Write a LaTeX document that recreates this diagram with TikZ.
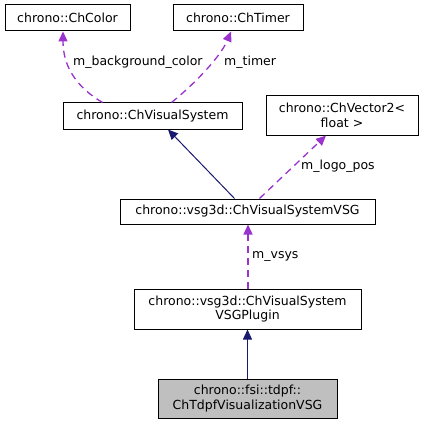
\documentclass[tikz,border=0pt]{standalone}
\usepackage{fontspec}
\setmainfont{DejaVu Sans}
\usetikzlibrary{arrows.meta}

\definecolor{usecol}{HTML}{9A32CD}
\definecolor{inhcol}{HTML}{191970}
\tikzset{
  cls/.style={draw, line width=1pt, fill=white, align=center, inner sep=0pt, font=\fontsize{12.5}{14.5}\selectfont},
  inh/.style={draw=inhcol, line width=1pt, -{Triangle[length=10pt, width=9pt, fill=inhcol]}},
  use/.style={draw=usecol, line width=1.3pt, dash pattern=on 7pt off 5pt, -{Triangle[length=10pt, width=9pt, fill=usecol]}},
  lbl/.style={font=\fontsize{12.5}{14.5}\selectfont, inner sep=1pt}
}

\begin{document}
\begin{tikzpicture}[x=1pt, y=-1pt]
  \useasboundingbox (0,0) rectangle (423,425);
  % classes
  \node[cls, minimum width=125pt, minimum height=26pt] (color) at (67.5,18) {chrono::ChColor};
  \node[cls, minimum width=130pt, minimum height=26pt] (timer) at (238,18) {chrono::ChTimer};
  \node[cls, minimum width=179pt, minimum height=26pt] (vis) at (152.5,116) {chrono::ChVisualSystem};
  \node[cls, minimum width=152pt, minimum height=39pt] (vec) at (342,115.5) {chrono::ChVector2<\\float >};
  \node[cls, minimum width=255pt, minimum height=25pt] (vsg) at (247.5,211.5) {chrono::vsg3d::ChVisualSystemVSG};
  \node[cls, minimum width=227pt, minimum height=40pt] (plugin) at (247.5,309) {chrono::vsg3d::ChVisualSystem\\VSGPlugin};
  \node[cls, fill=black!25, minimum width=179pt, minimum height=39pt] (tdpf) at (247.5,398.5) {chrono::fsi::tdpf::\\ChTdpfVisualizationVSG};
  % relations
  \draw[use] (vis.north west) ++(40pt,0) coordinate (v1) .. controls (78,88) and (63,68) .. (color.south west -| 63,0);
  \draw[use] (vis.north west) ++(109pt,0) coordinate (v2) .. controls (192,86) and (220,58) .. (timer.south west -| 231,0);
  \node[lbl, anchor=west] (bglbl) at (72,62) {m\_background\_color};
  \node[lbl, anchor=west] (tmlbl) at (223,62) {m\_timer};
  \draw[inh] (vsg.north west) ++(115pt,0) -- (vis.south west -| 168,0);
  \draw[use] (vsg.north west) ++(140pt,0) -- (vec.south west -| 326,0);
  \node[lbl, anchor=west] (logolbl) at (300,166) {m\_logo\_pos};
  \draw[use] ([xshift=0.5pt]plugin.north) -- ([xshift=0.5pt]vsg.south);
  \node[lbl, anchor=west] (vsyslbl) at (251,256) {m\_vsys};
  \draw[inh] (tdpf.north) -- (plugin.south);
\end{tikzpicture}
\end{document}
